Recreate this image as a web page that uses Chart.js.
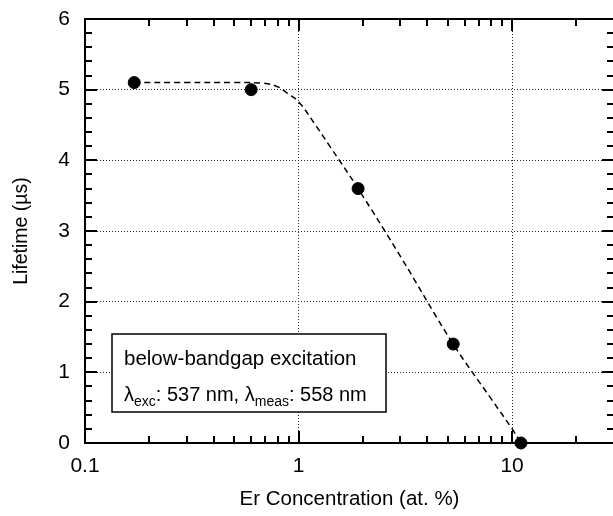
<!DOCTYPE html>
<html>
<head>
<meta charset="utf-8">
<script src="https://cdn.jsdelivr.net/npm/chart.js@4"></script>
<style>
  html, body { margin: 0; padding: 0; background: #fff; overflow: hidden; }
  #wrap { width: 613px; height: 516px; overflow: hidden; }
</style>
</head>
<body>
<div id="wrap"><canvas id="chart" width="621" height="516"></canvas></div>
<script>
// measured points
const concentration = [0.17, 0.6, 1.9, 5.3, 11];
const lifetime = [5.1, 5.0, 3.6, 1.4, 0];

// dashed guide curve
const fitConcentration = [0.17, 0.3, 0.5, 0.69, 0.8, 0.885, 1.0, 1.2, 1.4, 1.9, 3, 5.3, 8, 10, 11];
const fitLifetime = [5.1, 5.1, 5.1, 5.09, 5.04, 4.95, 4.83, 4.5, 4.2, 3.6, 2.64, 1.4, 0.62, 0.2, 0];

// axes
const xTickValues = [0.1, 1, 10];
const xMinorTicks = [0.2, 0.3, 0.4, 0.5, 0.6, 0.7, 0.8, 0.9, 2, 3, 4, 5, 6, 7, 8, 9, 20];
const yTickValues = [0, 1, 2, 3, 4, 5, 6];
const yMinorTicks = [];
for (let v = 0; v < 6; v += 0.2) yMinorTicks.push(Math.round(v * 10) / 10);

const FONT = "'Liberation Sans', Arial, Helvetica, sans-serif";

const frameTicks = {
    id: 'frameTicks',
    beforeDatasetsDraw(chart) {
        const { ctx, chartArea: a, scales: { x, y } } = chart;
        ctx.save();
        ctx.strokeStyle = '#000';
        ctx.lineWidth = 2;
        ctx.lineCap = 'butt';

        // inward ticks, all four sides
        ctx.beginPath();
        yMinorTicks.forEach(v => {
            const py = Math.round(y.getPixelForValue(v));
            const len = yTickValues.includes(v) ? 12 : 7;
            ctx.moveTo(a.left, py); ctx.lineTo(a.left + len, py);
            ctx.moveTo(a.right, py); ctx.lineTo(a.right - len, py);
        });
        xMinorTicks.concat(xTickValues).forEach(v => {
            const px = Math.round(x.getPixelForValue(v));
            const len = xTickValues.includes(v) ? 12 : 7;
            ctx.moveTo(px, a.bottom); ctx.lineTo(px, a.bottom - len);
            ctx.moveTo(px, a.top); ctx.lineTo(px, a.top + len);
        });
        ctx.stroke();

        ctx.strokeRect(a.left, a.top, a.right - a.left, a.bottom - a.top);

        // annotation box
        const bx = 112, by = 334, bw = 274, bh = 78;
        ctx.fillStyle = '#fff';
        ctx.fillRect(bx, by, bw, bh);
        ctx.lineWidth = 1.5;
        ctx.strokeRect(bx, by, bw, bh);

        ctx.fillStyle = '#000';
        ctx.textBaseline = 'alphabetic';
        ctx.textAlign = 'left';
        ctx.font = '20.5px ' + FONT;
        ctx.fillText('below-bandgap excitation', 124, 365);

        let cx = 124;
        const put = (txt, size, base) => {
            ctx.font = size + 'px ' + FONT;
            ctx.fillText(txt, cx, base);
            cx += ctx.measureText(txt).width;
        };
        put('λ', 20, 401);
        put('exc', 14, 406);
        put(': 537 nm, ', 20, 401);
        put('λ', 20, 401);
        put('meas', 14, 406);
        put(': 558 nm', 20, 401);
        ctx.restore();
    }
};

new Chart(document.getElementById('chart'), {
    type: 'scatter',
    data: {
        datasets: [
            {
                label: 'fit',
                data: fitConcentration.map((c, i) => ({ x: c, y: fitLifetime[i] })),
                showLine: true,
                tension: 0.4,
                borderColor: '#000',
                borderWidth: 1.5,
                borderDash: [6, 4],
                pointRadius: 0,
                clip: false
            },
            {
                label: 'Lifetime',
                data: concentration.map((c, i) => ({ x: c, y: lifetime[i] })),
                backgroundColor: '#000',
                borderColor: '#000',
                pointRadius: 6,
                pointHoverRadius: 6,
                clip: false
            }
        ]
    },
    options: {
        responsive: false,
        animation: false,
        layout: { padding: { top: 19, right: 2, left: 0, bottom: 0 } },
        plugins: { legend: { display: false }, tooltip: { enabled: false } },
        scales: {
            x: {
                type: 'logarithmic',
                min: 0.1,
                max: 30,
                afterBuildTicks: s => { s.ticks = xTickValues.map(v => ({ value: v })); },
                afterFit: s => { s.height = 73; s.paddingLeft = 0; s.paddingRight = 0; },
                grid: {
                    drawTicks: false,
                    lineWidth: 1,
                    color: c => (c.tick && c.tick.value === 0.1) ? 'rgba(0,0,0,0)' : '#222'
                },
                border: { display: false, dash: [1, 2] },
                ticks: {
                    padding: 11,
                    color: '#000',
                    maxRotation: 0,
                    autoSkip: false,
                    font: { family: FONT, size: 21 },
                    callback: v => String(v)
                },
                title: {
                    display: true,
                    text: 'Er Concentration (at. %)',
                    color: '#000',
                    font: { family: FONT, size: 20.5 },
                    padding: { top: 0, bottom: 4 }
                }
            },
            y: {
                min: 0,
                max: 6,
                afterBuildTicks: s => { s.ticks = yTickValues.map(v => ({ value: v })); },
                afterFit: s => { s.width = 85; s.paddingTop = 0; s.paddingBottom = 0; },
                grid: {
                    drawTicks: false,
                    lineWidth: 1,
                    color: c => (c.tick && (c.tick.value === 0 || c.tick.value === 6)) ? 'rgba(0,0,0,0)' : '#222'
                },
                border: { display: false, dash: [1, 2] },
                ticks: {
                    padding: 15,
                    color: '#000',
                    font: { family: FONT, size: 21 }
                },
                title: {
                    display: true,
                    text: 'Lifetime (µs)',
                    color: '#000',
                    font: { family: FONT, size: 19.5 },
                    padding: { top: 10, bottom: 0 }
                }
            }
        }
    },
    plugins: [frameTicks]
});
</script>
</body>
</html>
